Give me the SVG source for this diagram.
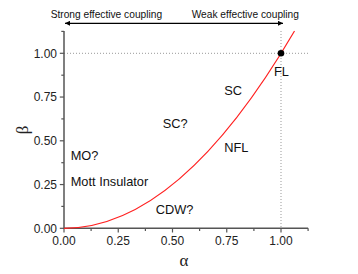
<svg xmlns="http://www.w3.org/2000/svg" width="358" height="274" viewBox="0 0 358 274">
<style>
.t{font-family:"Liberation Sans",Arial,sans-serif;fill:#111}
.tick{font-family:"Liberation Sans",Arial,sans-serif;font-size:12px;fill:#222}
.lbl{font-size:12.8px}
.axis{stroke:#555;stroke-width:1.5;fill:none}
.tk{stroke:#555;stroke-width:1.2}
.dot{stroke:#999;stroke-width:1;stroke-dasharray:1,2;fill:none}
.greek{font-family:"Liberation Serif","Times New Roman",serif;font-size:17px;fill:#222}
</style>
<defs>
<marker id="ah" viewBox="0 0 10 10" refX="10" refY="5" markerWidth="7" markerHeight="5" markerUnits="userSpaceOnUse" orient="auto-start-reverse">
<path d="M0,0 L10,5 L0,10 Z" fill="#000"/>
</marker>
</defs>
<rect width="358" height="274" fill="#fff"/>
<g id="grid">
<line class="dot" x1="64" y1="53.3" x2="308" y2="53.3"/>
<line class="dot" x1="281" y1="31" x2="281" y2="228.3"/>
</g>
<g id="axes">
<path class="axis" d="M64,31 V228.3 H308.1"/>
<g class="tk">
<line x1="64" y1="228.3" x2="64" y2="232.5"/>
<line x1="91.1" y1="228.3" x2="91.1" y2="231"/>
<line x1="118.25" y1="228.3" x2="118.25" y2="232.5"/>
<line x1="145.4" y1="228.3" x2="145.4" y2="231"/>
<line x1="172.5" y1="228.3" x2="172.5" y2="232.5"/>
<line x1="199.6" y1="228.3" x2="199.6" y2="231"/>
<line x1="226.75" y1="228.3" x2="226.75" y2="232.5"/>
<line x1="253.9" y1="228.3" x2="253.9" y2="231"/>
<line x1="281" y1="228.3" x2="281" y2="232.5"/>
<line x1="308.1" y1="228.3" x2="308.1" y2="231"/>
<line x1="59.8" y1="228.3" x2="64" y2="228.3"/>
<line x1="61.3" y1="206.4" x2="64" y2="206.4"/>
<line x1="59.8" y1="184.55" x2="64" y2="184.55"/>
<line x1="61.3" y1="162.7" x2="64" y2="162.7"/>
<line x1="59.8" y1="140.8" x2="64" y2="140.8"/>
<line x1="61.3" y1="118.9" x2="64" y2="118.9"/>
<line x1="59.8" y1="97.05" x2="64" y2="97.05"/>
<line x1="61.3" y1="75.2" x2="64" y2="75.2"/>
<line x1="59.8" y1="53.3" x2="64" y2="53.3"/>
<line x1="61.3" y1="31.4" x2="64" y2="31.4"/>
</g>
<g class="tick" text-anchor="middle">
<text x="64" y="245">0.00</text>
<text x="118.25" y="245">0.25</text>
<text x="172.5" y="245">0.50</text>
<text x="226.75" y="245">0.75</text>
<text x="281" y="245">1.00</text>
</g>
<g class="tick" text-anchor="end">
<text x="57" y="232.5">0.00</text>
<text x="57" y="188.7">0.25</text>
<text x="57" y="145">0.50</text>
<text x="57" y="101.2">0.75</text>
<text x="57" y="57.5">1.00</text>
</g>
<text class="greek" x="184" y="266" text-anchor="middle">α</text>
<text class="greek" transform="translate(28,130) rotate(-90)" text-anchor="middle">β</text>
</g>
<g id="connectors">
<path d="M64,228.3 Q179.2,228.3 294.5,31" fill="none" stroke="#ff2020" stroke-width="1.2"/>
<line x1="65" y1="23.3" x2="283" y2="23.3" stroke="#000" stroke-width="1.2" marker-start="url(#ah)" marker-end="url(#ah)"/>
</g>
<g id="fl-point"><circle cx="281" cy="53.3" r="3.3" fill="#000"/></g>
<g id="coupling-labels" class="t" font-size="10.2">
<text x="50.7" y="18.3">Strong effective coupling</text>
<text x="191.7" y="18.3">Weak effective coupling</text>
</g>
<g id="regions" class="t lbl">
<g id="mo"><text x="70.7" y="159.5">MO?</text></g>
<g id="mott"><text x="70.7" y="186">Mott Insulator</text></g>
<g id="cdw"><text x="155.7" y="213.5">CDW?</text></g>
<g id="scq"><text x="162.7" y="127.5">SC?</text></g>
<g id="nfl"><text x="224.3" y="152">NFL</text></g>
<g id="sc"><text x="224.3" y="94.5">SC</text></g>
<g id="fl"><text x="274" y="75.7">FL</text></g>
</g>
</svg>
